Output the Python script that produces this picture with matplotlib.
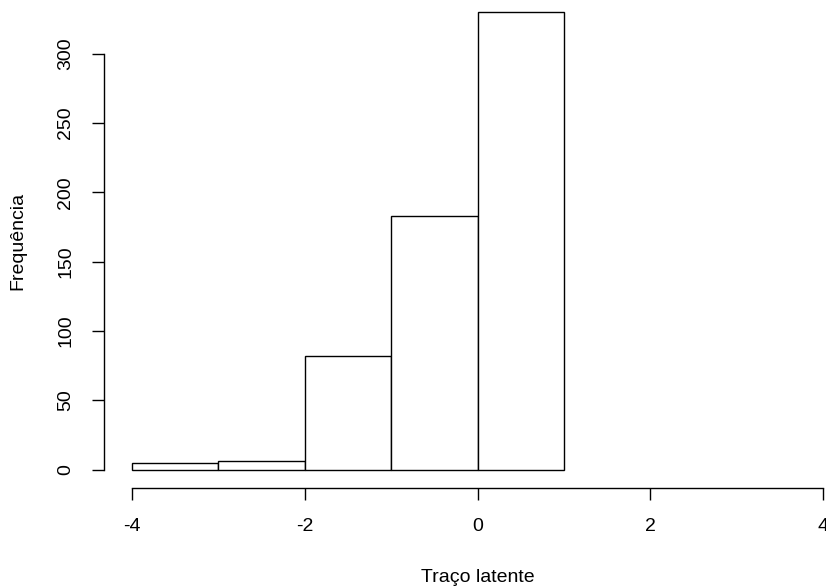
#!/usr/bin/env python3

'''Histogram of the latent trait scores, drawn in the style of base R hist().'''

import numpy as np
import matplotlib as mpl
import matplotlib.pyplot as plt

# bin edges and counts
bin_edges = [-4, -3, -2, -1, 0, 1]
counts = [5, 6, 82, 183, 330]
x_ticks = [-4, -2, 0, 2, 4]
y_ticks = [0, 50, 100, 150, 200, 250, 300]
x_label = 'Traço latente'
y_label = 'Frequência'


def do_plotting(savefig='out.png', fontsize=14, dpi=100, l=826, w=588):
    '''Build the figure with R-like axes (4% padding, detached spines).'''

    mpl.rcParams['font.family'] = ['Liberation Sans', 'DejaVu Sans']
    mpl.rcParams['xtick.direction'] = 'out'
    mpl.rcParams['ytick.direction'] = 'out'

    fig = plt.figure(figsize=(l / dpi, w / dpi), dpi=dpi)

    # plot region in pixels, from the reference
    px_left, px_right = 104.3, 850.8
    px_top, px_bottom = -6.3, 488.0
    ax = fig.add_axes([px_left / l, 1 - px_bottom / w,
                       (px_right - px_left) / l, (px_bottom - px_top) / w])

    edges = np.array(bin_edges, dtype=float)
    ax.bar(edges[:-1], counts, width=np.diff(edges), align='edge',
           facecolor='white', edgecolor='black', linewidth=1.0)

    xr = x_ticks[-1] - x_ticks[0]
    ax.set_xlim(x_ticks[0] - 0.04 * xr, x_ticks[-1] + 0.04 * xr)
    yr = max(counts)
    ax.set_ylim(-0.04 * yr, yr * 1.04)

    for side in ('top', 'right'):
        ax.spines[side].set_visible(False)
    ax.spines['bottom'].set_bounds(x_ticks[0], x_ticks[-1])
    ax.spines['left'].set_bounds(y_ticks[0], y_ticks[-1])
    for side in ('bottom', 'left'):
        ax.spines[side].set_linewidth(1.0)

    ax.set_xticks(x_ticks)
    ax.set_xticklabels([str(t) for t in x_ticks])
    ax.set_yticks(y_ticks)
    ax.set_yticklabels([str(t) for t in y_ticks], rotation=90, va='center')
    ax.tick_params(axis='both', length=8.6, width=1.0, labelsize=fontsize)
    ax.tick_params(axis='x', pad=13)
    ax.tick_params(axis='y', pad=13)

    fig.text(477.5 / l, 1 - 577 / w, x_label, ha='center', va='center',
             fontsize=fontsize)
    fig.text(18 / l, 1 - 241 / w, y_label, ha='center', va='center',
             rotation=90, fontsize=fontsize)

    fig.savefig(savefig, dpi=dpi)
    plt.close(fig)


if __name__ == '__main__':
    do_plotting()
